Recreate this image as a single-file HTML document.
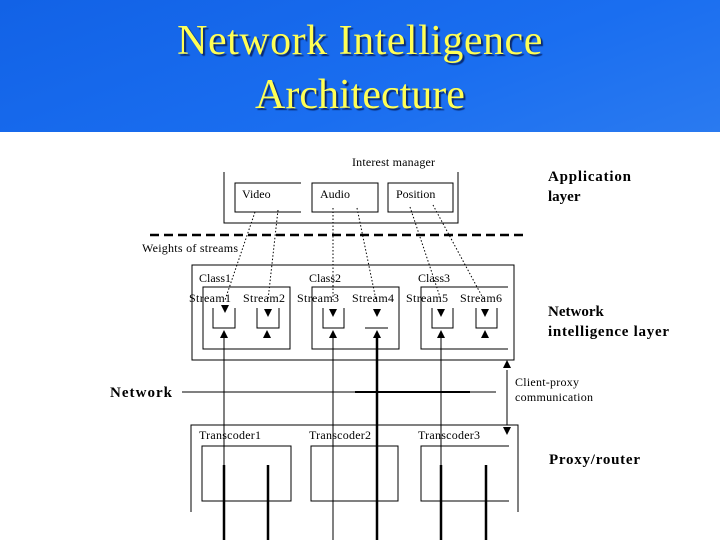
<!DOCTYPE html>
<html><head><meta charset="utf-8"><style>
html,body{margin:0;padding:0;width:720px;height:540px;overflow:hidden;background:#fff}
.hdr{position:absolute;left:0;top:0;width:720px;height:132px;background:linear-gradient(160deg,#1262e6 0%,#1a6ef0 60%,#2a7af0 100%);}
.t{position:absolute;left:0;width:720px;text-align:center;font-family:"Liberation Serif",serif;font-size:42px;color:#ffff55;text-shadow:2px 2px 1px #0a2a70;}
svg{position:absolute;left:0;top:0}
</style></head><body>
<div class="hdr"></div>
<div class="t" style="top:17px;letter-spacing:0.5px">Network Intelligence</div>
<div class="t" style="top:71px">Architecture</div>
<svg width="720" height="540" viewBox="0 0 720 540" font-family="Liberation Serif, serif">
<g stroke="#000" fill="none" stroke-width="1">
<path d="M224,172 V223 H458 V172"/>
<path d="M301,183 H235 V212 H301"/>
<rect x="312" y="183" width="66" height="29"/>
<rect x="388" y="183" width="65" height="29"/>
<line x1="150" y1="235" x2="525" y2="235" stroke-width="2.5" stroke-dasharray="9,5"/>
<rect x="192" y="265" width="322" height="95"/>
<rect x="203" y="287" width="87" height="62"/>
<rect x="312" y="287" width="87" height="62"/>
<path d="M508,287 H421 V349 H508"/>
<path d="M213,308 V328 H235 V308"/>
<path d="M257,308 V328 H279 V308"/>
<path d="M323,308 V328 H344 V308"/>
<path d="M365,328 H388"/>
<path d="M432,308 V328 H453 V308"/>
<path d="M476,308 V328 H497 V308"/>
<g stroke-dasharray="1.5,2">
<line x1="255" y1="212" x2="225" y2="300"/>
<line x1="278" y1="210" x2="268" y2="300"/>
<line x1="333" y1="208" x2="333" y2="300"/>
<line x1="357" y1="208" x2="376" y2="300"/>
<line x1="410" y1="207" x2="441" y2="300"/>
<line x1="433" y1="205" x2="484" y2="300"/>
</g>
<line x1="224" y1="335" x2="224" y2="540"/>
<line x1="333" y1="335" x2="333" y2="540"/>
<line x1="377" y1="335" x2="377" y2="540" stroke-width="2.5"/>
<line x1="441" y1="335" x2="441" y2="540"/>
<line x1="268" y1="465" x2="268" y2="540" stroke-width="2.5"/>
<line x1="486" y1="465" x2="486" y2="540" stroke-width="2.5"/>
<line x1="224" y1="465" x2="224" y2="540" stroke-width="2.5"/>
<line x1="441" y1="465" x2="441" y2="540" stroke-width="2.5"/>
<line x1="182" y1="392" x2="496" y2="392"/>
<line x1="355" y1="392" x2="470" y2="392" stroke-width="2"/>
<line x1="507" y1="370" x2="507" y2="425"/>
<path d="M191,512 V425 H518 V512"/>
<rect x="202" y="446" width="89" height="55"/>
<rect x="311" y="446" width="87" height="55"/>
<path d="M509,446 H421 V501 H509"/>
</g>
<g fill="#000">
<path d="M221,305 L229,305 L225,313 Z"/>
<path d="M264,309 L272,309 L268,317 Z"/>
<path d="M329,309 L337,309 L333,317 Z"/>
<path d="M373,309 L381,309 L377,317 Z"/>
<path d="M437,309 L445,309 L441,317 Z"/>
<path d="M481,309 L489,309 L485,317 Z"/>
<path d="M220,338 L228,338 L224,330 Z"/>
<path d="M263,338 L271,338 L267,330 Z"/>
<path d="M329,338 L337,338 L333,330 Z"/>
<path d="M373,338 L381,338 L377,330 Z"/>
<path d="M437,338 L445,338 L441,330 Z"/>
<path d="M481,338 L489,338 L485,330 Z"/>
<path d="M503,368 L511,368 L507,360 Z"/>
<path d="M503,427 L511,427 L507,435 Z"/>
</g>
<g font-size="12" fill="#000">
<text x="352" y="166" textLength="83">Interest manager</text>
<text x="242" y="198">Video</text>
<text x="320" y="198">Audio</text>
<text x="396" y="198">Position</text>
<text x="142" y="252" textLength="96">Weights of streams</text>
<text x="199" y="282">Class1</text>
<text x="309" y="282">Class2</text>
<text x="418" y="282">Class3</text>
<text x="189" y="302" textLength="42">Stream1</text>
<text x="243" y="302" textLength="42">Stream2</text>
<text x="297" y="302" textLength="42">Stream3</text>
<text x="352" y="302" textLength="42">Stream4</text>
<text x="406" y="302" textLength="42">Stream5</text>
<text x="460" y="302" textLength="42">Stream6</text>
<text x="199" y="439" textLength="62">Transcoder1</text>
<text x="309" y="439" textLength="62">Transcoder2</text>
<text x="418" y="439" textLength="62">Transcoder3</text>
<text x="515" y="386" textLength="64">Client-proxy</text>
<text x="515" y="401" textLength="78">communication</text>
</g>
<g font-size="15" font-weight="bold" fill="#000">
<text x="548" y="181" textLength="83">Application</text>
<text x="548" y="201">layer</text>
<text x="548" y="316">Network</text>
<text x="548" y="336" textLength="121">intelligence layer</text>
<text x="110" y="397" textLength="62">Network</text>
<text x="549" y="464" textLength="91">Proxy/router</text>
</g>
</svg>
</body></html>
